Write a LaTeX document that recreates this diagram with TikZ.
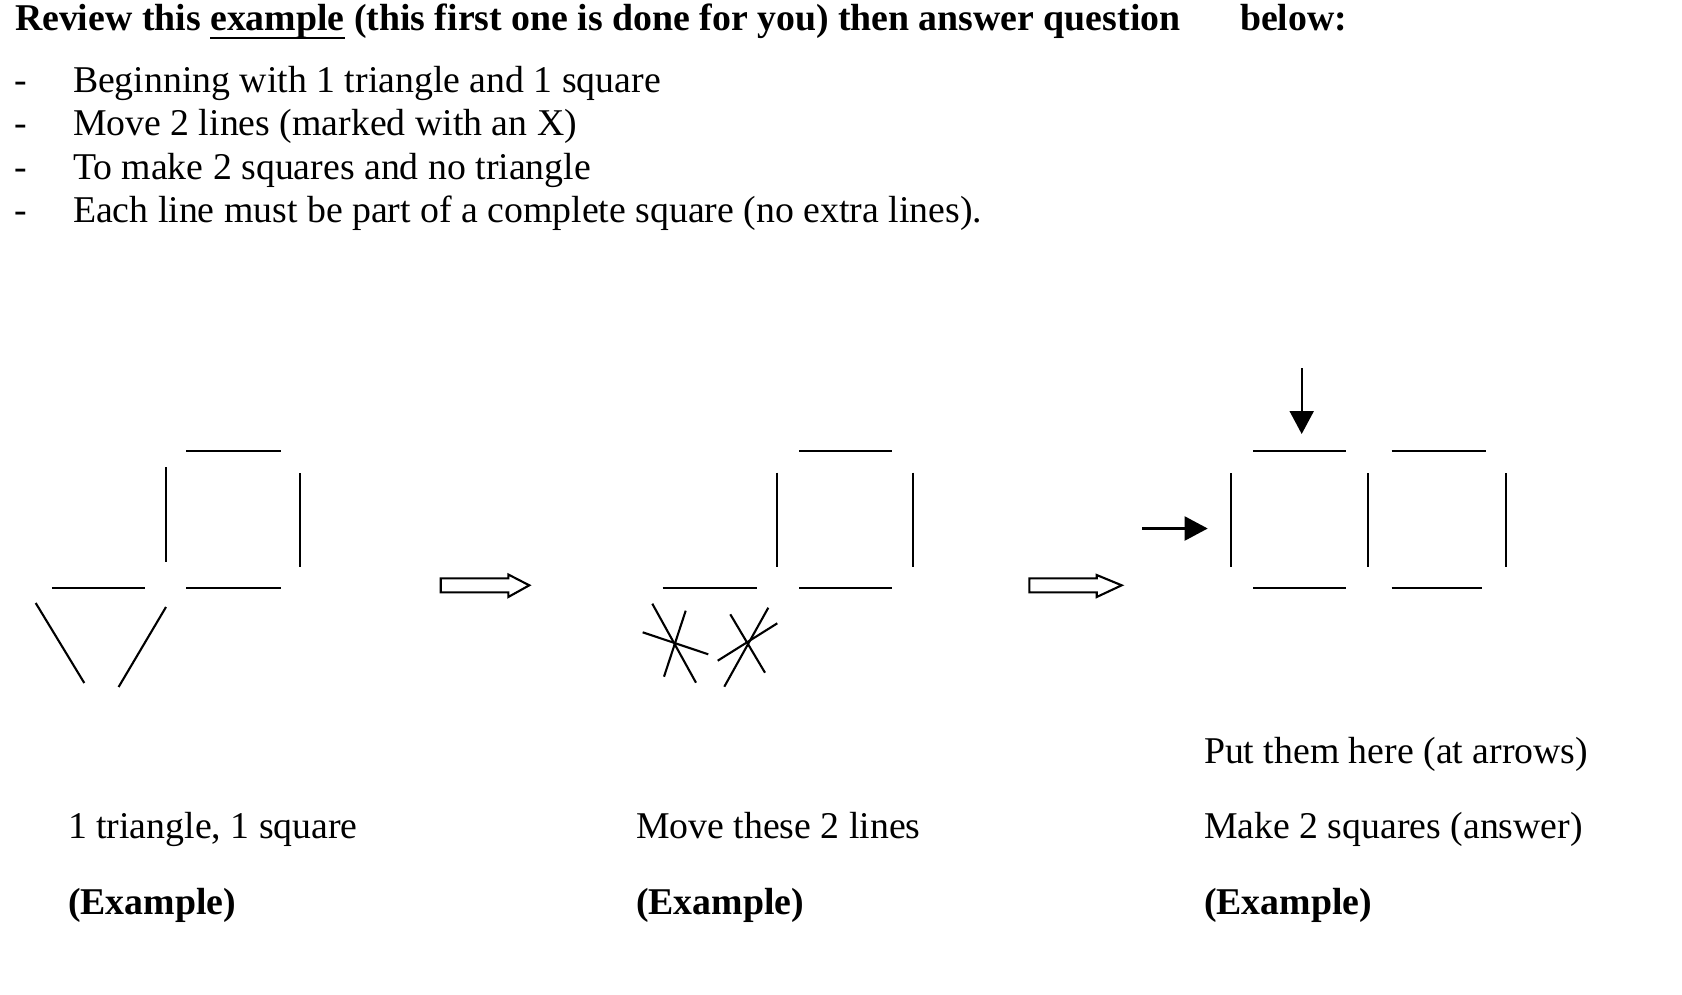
\documentclass[tikz,border=0pt]{standalone}
\usepackage{fontspec}
\setmainfont{Liberation Serif}
\usetikzlibrary{arrows.meta}
\newcommand\myul[1]{\leavevmode\setbox0\hbox{#1}\rlap{\rule[-9pt]{\wd0}{2.4pt}}\box0\relax}
\begin{document}
\begin{tikzpicture}[x=1pt,y=-1pt,
  stick/.style={line width=2.1pt},
  txt/.style={anchor=base west, inner sep=0pt, outer sep=0pt, font=\fontsize{37.8}{43.5}\selectfont},
  btxt/.style={anchor=base west, inner sep=0pt, outer sep=0pt, font=\fontsize{37.8}{43.5}\selectfont\bfseries},
  hollow/.style={line width=2.1pt, line join=miter},
  pointer/.style={line width=2.1pt, -{Triangle[length=23pt,width=24pt]}}]
\useasboundingbox (0,0) rectangle (1682,994);

% ---- heading and instructions ----
\node[btxt] (title) at (15,30) {Review this \myul{example} (this first one is done for you) then answer question};
\node[btxt] (below) at (1240,30) {below:};
\node[txt] (d1) at (14.5,92) {-};
\node[txt] (d2) at (14.5,135.5) {-};
\node[txt] (d3) at (14.5,179) {-};
\node[txt] (d4) at (14.5,222.5) {-};
\node[txt] (b1) at (73,92) {Beginning with 1 triangle and 1 square};
\node[txt] (b2) at (73,135.5) {Move 2 lines (marked with an X)};
\node[txt] (b3) at (73,179) {To make 2 squares and no triangle};
\node[txt] (b4) at (73,222.5) {Each line must be part of a complete square (no extra lines).};

% ---- figure 1: one triangle, one square ----
\draw[stick] (186,451) -- (281,451);
\draw[stick] (166.4,467) -- (166.4,562);
\draw[stick] (300.4,473) -- (300.4,567);
\draw[stick] (51.8,588) -- (145.4,588);
\draw[stick] (186,588) -- (281,588);
\draw[stick] (35.7,603) -- (84.3,683);
\draw[stick] (166,607) -- (118.6,687);

% hollow arrow 1
\draw[hollow] (440.7,578.3) -- (508.3,578.3) -- (508.3,574.5) -- (529.3,585.3)
  -- (508.3,597) -- (508.3,592.3) -- (440.7,592.3) -- cycle;

% ---- figure 2: lines to move ----
\draw[stick] (799,451.3) -- (892.3,451.3);
\draw[stick] (777,472.7) -- (777,566.7);
\draw[stick] (913.3,472.7) -- (913.3,566.7);
\draw[stick] (662.7,588) -- (756.7,588);
\draw[stick] (799,588) -- (892.3,588);
% first crossed line
\draw[stick] (652.3,603.7) -- (696,682.7);
\draw[stick] (685.7,610.7) -- (664,676.7);
\draw[stick] (642.7,632.3) -- (708.3,654.3);
% second crossed line
\draw[stick] (768.3,607.7) -- (724.3,686.7);
\draw[stick] (730.3,614.3) -- (765,672.7);
\draw[stick] (777.3,623.3) -- (717.7,660.7);

% hollow arrow 2
\draw[hollow] (1029.3,578.3) -- (1096.7,578.3) -- (1096.7,575) -- (1121.7,585.3)
  -- (1096.7,597) -- (1096.7,592.3) -- (1029.3,592.3) -- cycle;

% ---- figure 3: two squares ----
\draw[stick] (1253.3,451) -- (1346,451);
\draw[stick] (1391.7,451) -- (1485.7,451);
\draw[stick] (1230.7,473.3) -- (1230.7,567.3);
\draw[stick] (1367.7,473.3) -- (1367.7,567.3);
\draw[stick] (1505.7,473.3) -- (1505.7,567.3);
\draw[stick] (1253.3,588) -- (1346,588);
\draw[stick] (1391.7,588) -- (1481.7,588);

\coordinate (downstart) at (1301.7,368);
\coordinate (downend) at (1301.7,434);
\draw[pointer] (downstart) -- (downend);
\coordinate (rightstart) at (1142.3,528.5);
\coordinate (rightend) at (1207.7,528.5);
\draw[pointer] (rightstart) -- (rightend);

% ---- captions ----
\node[txt] (c1) at (68,838.3) {1 triangle, 1 square};
\node[btxt] (e1) at (68,914.3) {(Example)};
\node[txt] (c2) at (636,838.3) {Move these 2 lines};
\node[btxt] (e2) at (636,914.3) {(Example)};
\node[txt] (p3) at (1204,763.3) {Put them here (at arrows)};
\node[txt] (c3) at (1204,838.3) {Make 2 squares (answer)};
\node[btxt] (e3) at (1204,914.3) {(Example)};
\end{tikzpicture}
\end{document}
